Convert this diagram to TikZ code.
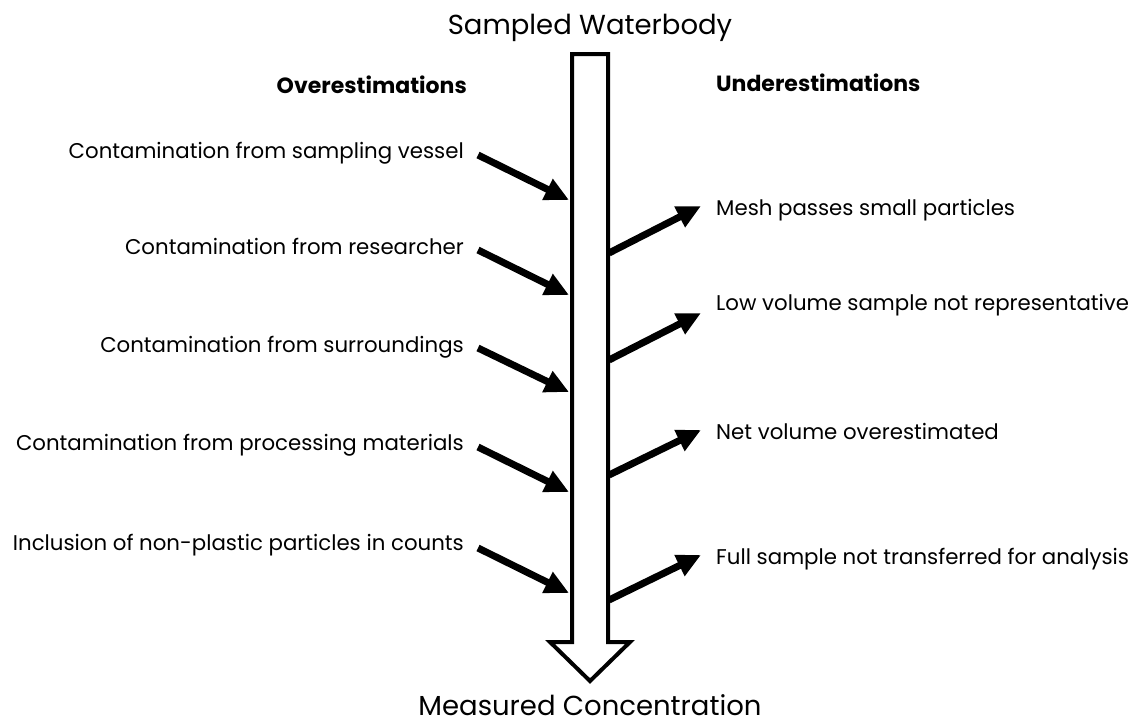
\documentclass[tikz,border=0pt]{standalone}
\usepackage{fontspec}
\setmainfont{Poppins}
\usetikzlibrary{arrows.meta}
\begin{document}
\begin{tikzpicture}[x=1pt,y=-1pt,
  lbl/.style={font=\fontsize{21.3}{26}\selectfont, inner sep=0pt},
  hdr/.style={font=\fontsize{22}{26}\selectfont\bfseries, inner sep=0pt},
  ttl/.style={font=\fontsize{27.5}{32}\selectfont, inner sep=0pt},
  bigarrow/.style={line width=4pt, draw=black, fill=white, line join=miter},
  errarrow/.style={line width=7pt, -{Triangle[length=24pt,width=22pt]}, shorten <=0pt}]
\useasboundingbox (0,0) rectangle (1140,726);
% main flow arrow
\draw[bigarrow] (572,54) -- (608,54) -- (608,642) -- (630,642) -- (590,681) -- (550,642) -- (572,642) -- cycle;
\node[ttl] (src) at (590,28) {Sampled Waterbody};
\node[ttl] (dst) at (590,705) {Measured Concentration};
\node[hdr, anchor=mid east] (over) at (467,91) {Overestimations};
\node[hdr, anchor=mid west] (under) at (716,89) {Underestimations};
% overestimations
\node[lbl, anchor=mid east] (o1) at (464,156) {Contamination from sampling vessel};
\node[lbl, anchor=mid east] (o2) at (464,252) {Contamination from researcher};
\node[lbl, anchor=mid east] (o3) at (464,350) {Contamination from surroundings};
\node[lbl, anchor=mid east] (o4) at (464,448) {Contamination from processing materials};
\node[lbl, anchor=mid east] (o5) at (464,548) {Inclusion of non-plastic particles in counts};
\coordinate (os1) at (478,155); \coordinate (ot1) at (569,200);
\coordinate (os2) at (478,250); \coordinate (ot2) at (569,295);
\coordinate (os3) at (478,348); \coordinate (ot3) at (569,392);
\coordinate (os4) at (478,447); \coordinate (ot4) at (569,492);
\coordinate (os5) at (478,548); \coordinate (ot5) at (569,593);
\foreach \i in {1,...,5} \draw[errarrow] (os\i) -- (ot\i);
% underestimations
\node[lbl, anchor=mid west] (u1) at (716,213) {Mesh passes small particles};
\node[lbl, anchor=mid west] (u2) at (716,308) {Low volume sample not representative};
\node[lbl, anchor=mid west] (u3) at (716,437) {Net volume overestimated};
\node[lbl, anchor=mid west] (u4) at (716,562) {Full sample not transferred for analysis};
\coordinate (us1) at (609,253); \coordinate (ut1) at (701,206);
\coordinate (us2) at (609,360); \coordinate (ut2) at (701,313);
\coordinate (us3) at (609,475); \coordinate (ut3) at (701,430);
\coordinate (us4) at (609,600); \coordinate (ut4) at (701,555);
\foreach \i in {1,...,4} \draw[errarrow] (us\i) -- (ut\i);
\end{tikzpicture}
\end{document}
